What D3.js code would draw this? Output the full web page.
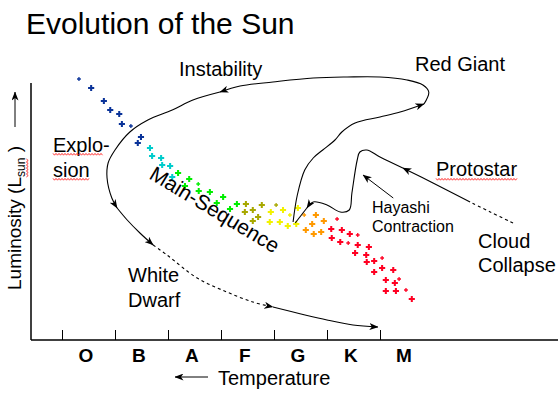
<!DOCTYPE html>
<html>
<head>
<meta charset="utf-8">
<script src="https://cdn.jsdelivr.net/npm/d3@7"></script>
<style>
  body { margin: 0; background: #fff; }
  svg { display: block; font-family: "Liberation Sans", Arial, sans-serif; }
</style>
</head>
<body>
<div id="chart"></div>
<script>
// spectral classes along the temperature axis (subclass 0..60)
const spectralClasses = ["O", "B", "A", "F", "G", "K", "M"];
const classColors = ["#0a3399", "#00cccc", "#00ee00", "#a8a800", "#f2f200", "#ff9900", "#ff0022"];

// main-sequence stars: [spectral subclass, luminosity (arbitrary units), bright]
const starsO = [[3.2,261,0],[5.5,252,1],[7.9,239,1],[9.1,230,1],[10.8,226,1],[11.3,216,1],[13.0,214,0],[14.9,203,1],[14.3,197,1]];
const starsB = [[16.6,192,1],[17.0,184,1],[18.7,182,1],[18.9,175,1],[20.4,174,1],[20.8,163,1]];
const starsA = [[21.9,167,1],[24.0,161,1],[23.2,154,1],[25.7,156,0],[25.8,149,1],[27.9,148,1],[30.4,143,1],[29.2,137,1],[33.0,136,1],[31.7,131,1]];
const starsF = [[34.7,136,1],[34.5,128,1],[36.0,130,1],[36.0,119,1],[37.7,135,1],[37.0,123,1],[40.4,135,0]];
const starsG = [[39.4,128,1],[41.7,130,1],[44.5,132,1],[39.2,118,1],[41.1,118,1],[42.6,114,1],[43.0,125,0],[44.2,116,1]];
const starsK = [[45.7,125,0],[47.9,125,1],[49.4,119,1],[47.2,116,1],[46.0,110,1],[48.9,108,1],[47.5,106,1]];
const starsM = [[51.9,121,0],[50.8,111,1],[52.8,110,1],[54.3,106,1],[55.8,105,0],[50.9,102,1],[52.5,98,1],[54.0,97,0],[55.8,95,1],[57.9,93,1],[55.3,87,1],[57.4,85,1],[57.5,78,1],[58.9,79,1],[60.4,82,0],[58.9,68,1],[60.4,72,1],[62.5,70,1],[61.1,60,1],[62.8,57,1],[61.1,49,1],[63.0,49,1],[63.6,61,0],[64.9,50,0],[66.0,41,1]];
const mainSequence = [starsO, starsB, starsA, starsF, starsG, starsK, starsM];

// evolution of the sun after the main sequence: [subclass, luminosity]
const toRedGiant = [[43.6,118],[44.4,145],[45.8,170],[47.4,182],[49.2,190],[51.5,200],[52.8,208],[55.3,217],[60.0,223],[63.8,228],[68.3,236]];
const giantLoop = [[68.3,236],[69.2,248],[68.1,255],[65.1,260],[60.0,263],[53.8,263],[47.4,262],[39.8,258],[33.6,254],[29.8,248]];
const instability = [[29.8,248],[24.7,240],[20.8,230],[16.2,220],[12.8,208],[10.0,190],[8.7,177],[8.5,162],[9.4,142],[10.4,132]];
const explosion = [[10.4,132],[12.3,120],[14.7,107],[17.2,95]];
const coolingDashed = [[17.2,95],[19.8,85],[25.5,62],[31.1,48],[36.0,38],[39.8,33]];
const whiteDwarf = [[39.8,33],[50.0,20],[54.9,15],[59.6,13]];

// birth of the sun: cloud collapse, protostar, hayashi track
const collapseDashed = [[85.1,117],[80.8,128],[77.0,138]];
const collapse = [[77.0,138],[70.0,157],[64.3,172]];
const hayashiTrack = [[64.3,172],[60.0,183],[57.5,190],[56.2,188],[55.7,180],[54.7,147],[54.2,130],[52.5,128],[50.0,135],[47.4,138],[46.2,132]];
const zeroAge = [[46.2,132],[44.0,117]];
const hayashiPointer = [[62.5,142],[56.8,165]];

const width = 560, height = 393;
const svg = d3.select("#chart").append("svg")
  .attr("width", width)
  .attr("height", height);

const x = d3.scaleLinear().domain([0, 60]).range([62, 380]);
const y = d3.scaleLinear().domain([0, 260]).range([340, 80]);

svg.append("defs").append("marker")
  .attr("id", "arrow")
  .attr("viewBox", "0 0 9 7")
  .attr("refX", 8.5).attr("refY", 3.5)
  .attr("markerWidth", 9).attr("markerHeight", 7)
  .attr("markerUnits", "userSpaceOnUse")
  .attr("orient", "auto")
  .append("path")
  .attr("d", "M0,0L9,3.5L0,7L2.5,3.5Z")
  .attr("fill", "#000");

// title
svg.append("text")
  .attr("x", 26).attr("y", 34)
  .attr("font-size", 30)
  .text("Evolution of the Sun");

// axes
svg.append("line")
  .attr("x1", 31).attr("x2", 558)
  .attr("y1", y(0)).attr("y2", y(0))
  .attr("stroke", "#000").attr("stroke-width", 1.5);
svg.append("line")
  .attr("x1", 31).attr("x2", 31)
  .attr("y1", 83).attr("y2", y(0))
  .attr("stroke", "#000").attr("stroke-width", 1.5);

const xAxis = svg.append("g")
  .attr("transform", `translate(0,${y(0)})`)
  .call(d3.axisBottom(x).tickValues(d3.range(0, 61, 10)).tickSize(-10).tickFormat(""));
xAxis.select(".domain").remove();
xAxis.selectAll(".tick line").attr("stroke", "#000");

svg.append("g").selectAll("text")
  .data(spectralClasses)
  .enter().append("text")
  .attr("x", (d, i) => x(i * 10 + 4.5))
  .attr("y", 362)
  .attr("text-anchor", "middle")
  .attr("font-size", 19)
  .attr("font-weight", "bold")
  .text(d => d);

svg.append("text")
  .attr("x", 218).attr("y", 385)
  .attr("font-size", 20)
  .text("Temperature");
svg.append("line")
  .attr("x1", 208).attr("x2", 175)
  .attr("y1", 377).attr("y2", 377)
  .attr("stroke", "#000")
  .attr("marker-end", "url(#arrow)");

// y label
const yLab = svg.append("text")
  .attr("transform", "translate(21,290) rotate(-90)")
  .attr("font-size", 19);
yLab.append("tspan").text("Luminosity (L");
yLab.append("tspan").attr("font-size", 12).attr("dy", 4).text("sun");
yLab.append("tspan").attr("dy", -4).text(" )");
svg.append("line")
  .attr("x1", 15).attr("x2", 15)
  .attr("y1", 127).attr("y2", 92)
  .attr("stroke", "#000")
  .attr("marker-end", "url(#arrow)");

// red spell-check squiggle
function squiggle(g, x0, x1, yy) {
  const pts = [];
  for (let px = x0, k = 0; px <= x1; px += 1.5, k++) pts.push([px, yy + (k % 2 ? 1.2 : -0.6)]);
  g.append("path")
    .attr("d", d3.line()(pts))
    .attr("fill", "none")
    .attr("stroke", "#ff2020")
    .attr("stroke-width", 0.9);
}
const yn = yLab.node();
const subStart = yn.getSubStringLength(0, 13);
const subLen = yn.getSubStringLength(13, 3);
squiggle(svg.append("g").attr("transform", "translate(21,290) rotate(-90)"), subStart, subStart + subLen, 6);

// main sequence stars
const line = d3.line().x(d => x(d[0])).y(d => y(d[1])).curve(d3.curveCatmullRom.alpha(0.5));
mainSequence.forEach((stars, ci) => {
  svg.append("g").selectAll("path")
    .data(stars)
    .enter().append("path")
    .attr("transform", d => `translate(${x(d[0])},${y(d[1])})`)
    .attr("d", d => d3.symbol().type(d3.symbolCross).size(d[2] ? 21 : 8)())
    .attr("fill", classColors[ci]);
});

function track(pts, dashed, arrow) {
  const p = svg.append("path")
    .attr("d", line(pts))
    .attr("fill", "none")
    .attr("stroke", "#000")
    .attr("stroke-width", 1.1);
  if (dashed) p.attr("stroke-dasharray", "3,3");
  if (arrow) p.attr("marker-end", "url(#arrow)");
}
track(toRedGiant, false, true);
track(giantLoop, false, true);
track(instability, false, true);
track(explosion, false, true);
track(coolingDashed, true, true);
track(whiteDwarf, false, true);
track(collapseDashed, true, false);
track(collapse, false, true);
track(hayashiTrack, false, true);
track(zeroAge, false, false);
svg.append("line")
  .attr("x1", x(hayashiPointer[0][0])).attr("y1", y(hayashiPointer[0][1]))
  .attr("x2", x(hayashiPointer[1][0])).attr("y2", y(hayashiPointer[1][1]))
  .attr("stroke", "#000")
  .attr("marker-end", "url(#arrow)");

// labels
function label(txt, lx, ly, size) {
  return svg.append("text").attr("x", lx).attr("y", ly).attr("font-size", size).text(txt);
}
label("Instability", 179, 76, 20);
label("Red Giant", 415, 71, 20);
const ex = label("Explo-", 53, 152, 20);
const si = label("sion", 53, 177, 20);
const pr = label("Protostar", 436, 176, 20);
label("Hayashi", 372, 213, 16);
label("Contraction", 372, 232, 16);
label("Cloud", 478, 248, 20);
label("Collapse", 478, 272, 20);
label("White", 128, 282, 20);
label("Dwarf", 128, 307, 20);
svg.append("text")
  .attr("transform", "translate(148,178) rotate(31)")
  .attr("font-size", 21)
  .text("Main-Sequence");

const sq = svg.append("g");
squiggle(sq, 53, 53 + ex.node().getComputedTextLength() - 7, 154);
squiggle(sq, 53, 53 + si.node().getComputedTextLength(), 179);
squiggle(sq, 436, 436 + pr.node().getComputedTextLength(), 179);
</script>
</body>
</html>
